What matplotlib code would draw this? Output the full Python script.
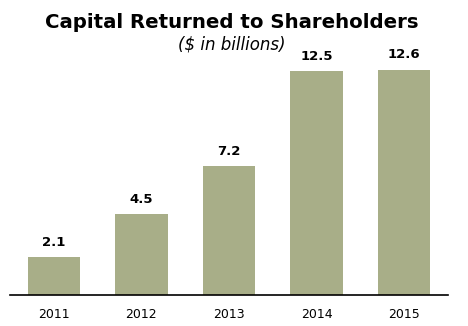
import matplotlib
matplotlib.use('Agg')
import matplotlib.pyplot as plt

years = ['2011', '2012', '2013', '2014', '2015']
capital = [2.1, 4.5, 7.2, 12.5, 12.6]
labels = ['2.1', '4.5', '7.2', '12.5', '12.6']

plt.rcParams['font.family'] = 'DejaVu Sans'

fig = plt.figure(figsize=(4.68, 3.26), dpi=100)
ax = fig.add_axes([10 / 468, 31 / 326, 438 / 468, 245 / 326])

x = range(len(years))
ax.bar(x, capital, width=0.6, color='#a8ae88')
for i, v in enumerate(capital):
    ax.text(i, v + 0.45, labels[i], ha='center', va='bottom',
            fontsize=9.5, fontweight='bold')

ax.set_xlim(-0.5, 4.5)
ax.set_ylim(0, 13.69)
ax.set_xticks(list(x))
ax.set_xticklabels(years, fontsize=9)
ax.tick_params(axis='x', length=0, pad=9)
ax.set_yticks([])
for s in ['top', 'right', 'left']:
    ax.spines[s].set_visible(False)
ax.spines['bottom'].set_linewidth(1.2)

fig.text(232 / 468, 1 - 22 / 326, 'Capital Returned to Shareholders',
         ha='center', va='center', fontsize=14.2, fontweight='bold')
fig.text(232 / 468, 1 - 45 / 326, '($ in billions)',
         ha='center', va='center', fontsize=12, style='italic')

fig.savefig('out.png', dpi=100)
